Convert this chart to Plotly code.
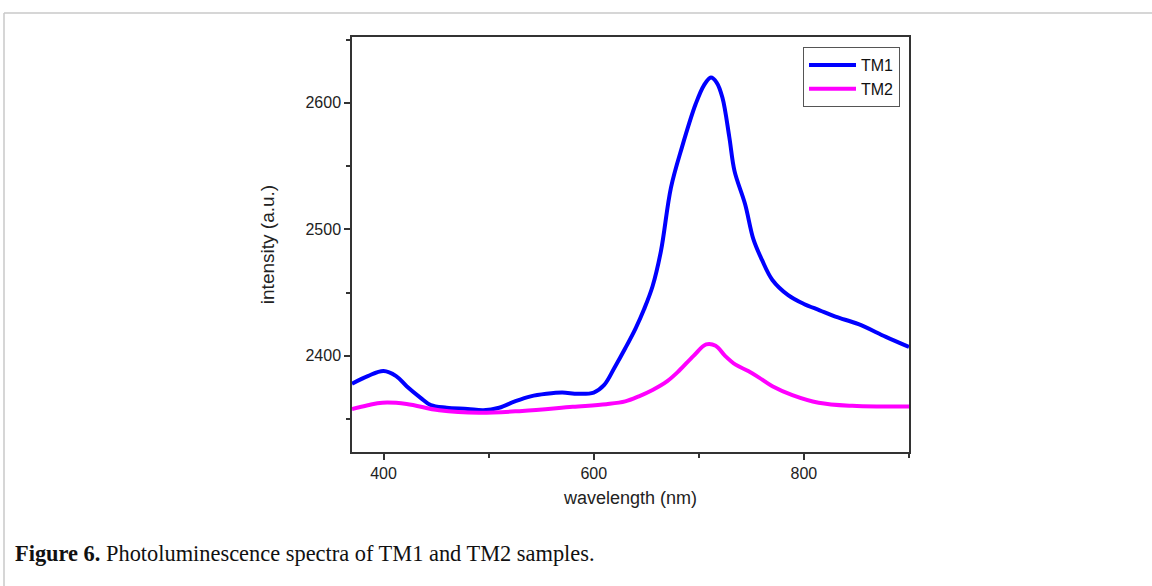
import plotly.graph_objects as go

# ---- data ----
tm1_x = [370, 385, 400, 412, 422, 435, 445, 460, 480, 495, 510, 525, 540, 555, 570, 585, 600,
         610, 620, 630, 640, 648, 656, 664, 673.5, 684, 697, 705, 711.5, 717, 722.5, 729,
         734, 744, 752, 760, 770, 785, 800, 815, 830, 852, 878, 900]
tm1_y = [2378, 2384, 2388, 2384, 2376, 2367, 2361, 2359, 2358, 2357, 2359, 2364, 2368, 2370, 2371, 2370, 2371,
         2377, 2391, 2406, 2422, 2437, 2455, 2483, 2533, 2565, 2599, 2614, 2620, 2616, 2604, 2573,
         2546, 2520, 2492, 2476, 2460, 2448, 2441, 2436, 2431, 2425, 2415, 2407]

tm2_x = [370, 385, 399, 422, 453, 491, 532, 580, 612, 630, 643, 656, 670, 681, 695, 707, 716,
         725, 735, 747, 757, 770, 789, 814, 846, 875, 900]
tm2_y = [2358, 2361, 2363, 2362, 2357, 2355, 2356.5, 2359.7, 2361.8, 2364, 2368, 2373, 2380, 2388,
         2400, 2409, 2408, 2400, 2393, 2388, 2383, 2376, 2369, 2363, 2360.5, 2360, 2360]

series_names = ["TM1", "TM2"]
series_colors = ["#0000FF", "#FF00FF"]

x_ticks = [400, 600, 800]
x_minor = [500, 700, 900]
y_ticks = [2400, 2500, 2600]
y_minor = [2350, 2450, 2550, 2650]
x_range = [370, 900]
y_range = [2324, 2652]

x_title = "wavelength (nm)"
y_title = "intensity (a.u.)"
caption_bold = "Figure 6."
caption_rest = " Photoluminescence spectra of TM1 and TM2 samples."

# ---- figure ----
W, H = 1152, 586
L, R, T, B = 352, 243, 37, 134
pw, ph = W - L - R, H - T - B

fig = go.Figure()
for xs, ys, name, col in [(tm1_x, tm1_y, series_names[0], series_colors[0]),
                          (tm2_x, tm2_y, series_names[1], series_colors[1])]:
    fig.add_trace(go.Scatter(x=xs, y=ys, name=name, mode="lines",
                             line=dict(color=col, width=4, shape="spline", smoothing=1.0)))

sans = "Liberation Sans, Arial, sans-serif"
axis_font = dict(family=sans, size=16, color="#222222")

common = dict(ticks="outside", ticklen=6, tickwidth=1.5, tickcolor="#333333",
              showline=True, linecolor="#333333", linewidth=1.5, mirror=True,
              showgrid=False, zeroline=False, tickfont=axis_font)

fig.update_xaxes(range=x_range, tickvals=x_ticks,
                 title=dict(text=x_title, font=dict(family=sans, size=18, color="#222222"), standoff=10),
                 minor=dict(tickvals=x_minor, ticks="outside", ticklen=4,
                            tickwidth=1.5, tickcolor="#333333", showgrid=False), **common)
fig.update_yaxes(range=y_range, tickvals=y_ticks,
                 title=dict(text=y_title, font=dict(family=sans, size=19, color="#222222"), standoff=26),
                 minor=dict(tickvals=y_minor, ticks="outside", ticklen=4,
                            tickwidth=1.5, tickcolor="#333333", showgrid=False), **common)

def px2paper_x(px):
    return (px - L) / pw

def px2paper_y(py):
    return (H - B - py) / ph

# page frame lines (top and left), as in the reference page
border = dict(color="#c8c8c8", width=1.5)
fig.add_shape(type="line", xref="paper", yref="paper",
              x0=px2paper_x(4), x1=px2paper_x(W), y0=px2paper_y(13), y1=px2paper_y(13), line=border)
fig.add_shape(type="line", xref="paper", yref="paper",
              x0=px2paper_x(4), x1=px2paper_x(4), y0=px2paper_y(13), y1=px2paper_y(H), line=border)

fig.add_annotation(xref="paper", yref="paper", x=px2paper_x(13), y=px2paper_y(553),
                   xanchor="left", yanchor="middle", showarrow=False,
                   text="<b>" + caption_bold + "</b>" + caption_rest,
                   font=dict(family="Liberation Serif, Times New Roman, serif", size=22.4, color="#111111"))

fig.update_layout(
    width=W, height=H,
    margin=dict(l=L, r=R, t=T, b=B, autoexpand=False),
    paper_bgcolor="white", plot_bgcolor="white",
    showlegend=True,
    legend=dict(x=px2paper_x(803), y=px2paper_y(47), xanchor="left", yanchor="top",
                bordercolor="#555555", borderwidth=1, bgcolor="white",
                font=dict(family=sans, size=16, color="#111111"),
                tracegroupgap=0, itemwidth=47),
)

fig.write_html("out.html", config={"displayModeBar": False},
               post_script="document.body.style.margin='0';document.body.style.padding='0';"
                           "document.body.style.overflow='hidden';")
